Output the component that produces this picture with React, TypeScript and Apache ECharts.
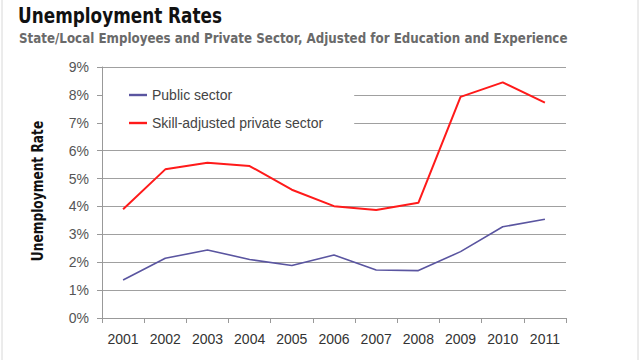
import React, { useEffect, useRef } from "react";
import * as echarts from "echarts";

const years = ["2001", "2002", "2003", "2004", "2005", "2006", "2007", "2008", "2009", "2010", "2011"];
const publicSector = [1.36, 2.14, 2.44, 2.1, 1.88, 2.26, 1.72, 1.7, 2.38, 3.27, 3.54];
const privateSector = [3.9, 5.33, 5.57, 5.45, 4.6, 4.01, 3.87, 4.13, 7.93, 8.45, 7.72];

const heavy = '"DejaVu Sans", "Liberation Sans", sans-serif';
const body = '"Liberation Sans", Arial, sans-serif';

export default function App() {
  const ref = useRef<HTMLDivElement>(null);
  useEffect(() => {
    const chart = echarts.init(ref.current!, null, { renderer: "svg" });
    chart.setOption({
      animation: false,
      backgroundColor: "#ffffff",
      graphic: [
        {
          type: "rect",
          shape: { x: 2, y: -2, width: 636, height: 370 },
          style: { fill: "none", stroke: "#d8d8d8", lineWidth: 1 },
          silent: true,
        },
        {
          type: "text",
          x: 18,
          y: 5,
          scaleX: 0.785,
          style: { text: "Unemployment Rates", font: `bold 21.5px ${heavy}`, fill: "#111" },
        },
        {
          type: "text",
          x: 19,
          y: 31,
          scaleX: 0.85,
          style: {
            text: "State/Local Employees and Private Sector, Adjusted for Education and Experience",
            font: `bold 14px ${heavy}`,
            fill: "#6a6a6a",
          },
        },
        {
          type: "text",
          x: 37,
          y: 191,
          rotation: Math.PI / 2,
          scaleX: 0.74,
          style: {
            text: "Unemployment Rate",
            font: `bold 16.5px ${heavy}`,
            fill: "#111",
            align: "center",
            verticalAlign: "middle",
          },
        },
      ],
      legend: {
        left: 103,
        top: 80,
        orient: "vertical",
        backgroundColor: "#ffffff",
        padding: [8, 31, 8, 26],
        itemWidth: 18,
        itemHeight: 14,
        itemGap: 14,
        icon: "path://M0,0H18V2.4H0Z",
        symbolKeepAspect: true,
        textStyle: { fontFamily: body, fontSize: 14, color: "#444" },
        data: ["Public sector", "Skill-adjusted private sector"],
      },
      grid: { left: 102, right: 74, top: 67, bottom: 42 },
      xAxis: {
        type: "category",
        data: years,
        boundaryGap: true,
        axisLine: { lineStyle: { color: "#999", width: 1 } },
        axisTick: { show: true, length: 5, lineStyle: { color: "#999" } },
        axisLabel: { fontFamily: body, fontSize: 14, color: "#333", margin: 14 },
      },
      yAxis: {
        type: "value",
        min: 0,
        max: 9,
        interval: 1,
        axisLine: { show: true, lineStyle: { color: "#999", width: 1 } },
        axisTick: { show: true, length: 5, lineStyle: { color: "#999" } },
        axisLabel: { fontFamily: body, fontSize: 14, color: "#555", margin: 13, formatter: "{value}%" },
        splitLine: { lineStyle: { color: "#a0a0a0", width: 1 } },
      },
      series: [
        {
          name: "Public sector",
          type: "line",
          data: publicSector,
          symbol: "none",
          lineStyle: { color: "#5a55a0", width: 1.6 },
          itemStyle: { color: "#5a55a0" },
        },
        {
          name: "Skill-adjusted private sector",
          type: "line",
          data: privateSector,
          symbol: "none",
          lineStyle: { color: "#ff1a1a", width: 2 },
          itemStyle: { color: "#ff1a1a" },
        },
      ],
    });
    return () => chart.dispose();
  }, []);
  return <div ref={ref} style={{ width: 640, height: 360, position: "fixed", left: 0, top: 0 }} />;
}
